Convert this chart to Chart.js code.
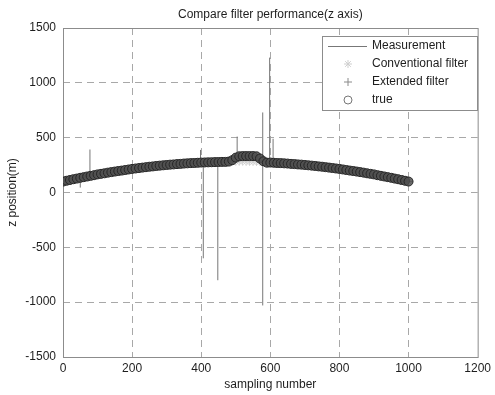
<!DOCTYPE html>
<html>
<head>
<meta charset="utf-8">
<script src="https://cdn.jsdelivr.net/npm/chart.js@4.4.1/dist/chart.umd.min.js"></script>
<style>
  html, body { margin: 0; padding: 0; background: #fff; }
  .chart-container { width: 495px; height: 395px; }
</style>
</head>
<body>
<div class="chart-container">
  <canvas id="zChart" width="495" height="395"></canvas>
</div>
<script>
// sampling numbers for the filter / true curves (every 10th sample)
const sampleX = [
  0, 10, 20, 30, 40, 50, 60, 70, 80, 90,
  100, 110, 120, 130, 140, 150, 160, 170, 180, 190,
  200, 210, 220, 230, 240, 250, 260, 270, 280, 290,
  300, 310, 320, 330, 340, 350, 360, 370, 380, 390,
  400, 410, 420, 430, 440, 450, 460, 470, 480, 490,
  500, 510, 520, 530, 540, 550, 560, 570, 580, 590,
  600, 610, 620, 630, 640, 650, 660, 670, 680, 690,
  700, 710, 720, 730, 740, 750, 760, 770, 780, 790,
  800, 810, 820, 830, 840, 850, 860, 870, 880, 890,
  900, 910, 920, 930, 940, 950, 960, 970, 980, 990,
  1000
];

// true z position (m)
const trueZ = [
  100, 107, 114, 121, 127, 134, 140, 146, 152, 158,
  165, 170, 175, 181, 186, 191, 196, 200, 205, 210,
  215, 219, 223, 227, 231, 235, 238, 242, 245, 248,
  251, 254, 256, 259, 261, 264, 266, 268, 269, 271,
  273, 274, 275, 276, 277, 278, 279, 279, 282, 295,
  318, 330, 332, 332, 332, 332, 330, 310, 285, 272,
  273, 271, 269, 268, 266, 264, 261, 259, 256, 254,
  251, 248, 245, 242, 238, 235, 231, 227, 223, 219,
  215, 210, 205, 200, 196, 191, 186, 181, 175, 170,
  165, 158, 152, 146, 140, 134, 127, 121, 114, 107,
  100
];

// conventional filter misses the step around 500-570
const conventionalZ = [
  100, 107, 114, 121, 127, 134, 140, 146, 152, 158,
  165, 170, 175, 181, 186, 191, 196, 200, 205, 210,
  215, 219, 223, 227, 231, 235, 238, 242, 245, 248,
  251, 254, 256, 259, 261, 264, 266, 268, 269, 271,
  273, 274, 275, 276, 277, 278, 279, 279, 280, 280,
  281, 281, 281, 280, 280, 279, 279, 278, 276, 274,
  273, 271, 269, 268, 266, 264, 261, 259, 256, 254,
  251, 248, 245, 242, 238, 235, 231, 227, 223, 219,
  215, 210, 205, 200, 196, 191, 186, 181, 175, 170,
  165, 158, 152, 146, 140, 134, 127, 121, 114, 107,
  100
];

// extended filter follows the true track
const extendedZ = trueZ;

// measurement outliers: sample, low end, high end
const spikeX    = [50, 78, 398, 406, 448, 504, 578, 598, 608];
const spikeLow  = [45, 150, 270, -600, -800, 280, -1030, 272, 270];
const spikeHigh = [130, 392, 388, 272, 276, 510, 730, 1230, 490];

const xTicks = [0, 200, 400, 600, 800, 1000, 1200];
const yTicks = [-1500, -1000, -500, 0, 500, 1000, 1500];

const FONT = "'Liberation Sans', Arial, sans-serif";
const TITLE = "Compare filter performance(z axis)";

document.addEventListener("DOMContentLoaded", () => {
  const toPoints = (ys) => sampleX.map((x, i) => ({ x: x, y: ys[i] }));

  // each outlier is a vertical segment, broken by a null point
  const measurement = [];
  spikeX.forEach((x, i) => {
    measurement.push({ x: x, y: spikeLow[i] });
    measurement.push({ x: x, y: spikeHigh[i] });
    measurement.push({ x: x, y: null });
  });

  const datasets = [
    {
      label: "Measurement",
      data: measurement,
      showLine: true,
      spanGaps: false,
      borderColor: "#777",
      borderWidth: 1,
      pointRadius: 0,
      order: 4
    },
    {
      label: "Conventional filter",
      data: toPoints(conventionalZ),
      showLine: false,
      pointStyle: "star",
      pointRadius: 4,
      borderColor: "#cfcfcf",
      borderWidth: 1,
      order: 3
    },
    {
      label: "Extended filter",
      data: toPoints(extendedZ),
      showLine: false,
      pointStyle: "cross",
      pointRadius: 4,
      borderColor: "#8a8a8a",
      borderWidth: 1,
      order: 2
    },
    {
      label: "true",
      data: toPoints(trueZ),
      showLine: false,
      pointStyle: "circle",
      pointRadius: 4.5,
      borderColor: "#262626",
      backgroundColor: "rgba(80,80,80,0.85)",
      borderWidth: 1,
      order: 1
    }
  ];

  // title, box round the plot and a MATLAB-like legend in the top right corner
  const boxPlugin = {
    id: "matlabBox",
    beforeDatasetsDraw(chart) {
      const { ctx, chartArea: a } = chart;
      ctx.save();
      ctx.strokeStyle = "#8c8c8c";
      ctx.lineWidth = 1;
      ctx.strokeRect(a.left + 0.5, a.top + 0.5, a.right - a.left, a.bottom - a.top);
      ctx.restore();
    },
    afterDraw(chart) {
      const { ctx, chartArea: a } = chart;
      ctx.save();
      ctx.font = "12px " + FONT;
      ctx.fillStyle = "#1e1e1e";
      ctx.textAlign = "center";
      ctx.textBaseline = "middle";
      ctx.fillText(TITLE, (a.left + a.right) / 2, 15);

      const box = { x: 322, y: 36, w: 155, h: 74 };
      ctx.fillStyle = "#fff";
      ctx.fillRect(box.x, box.y, box.w, box.h);
      ctx.strokeStyle = "#8c8c8c";
      ctx.lineWidth = 1;
      ctx.strokeRect(box.x + 0.5, box.y + 0.5, box.w, box.h);

      const rows = [46, 64, 82, 100];
      ctx.textAlign = "left";
      datasets.forEach((ds, i) => {
        const y = rows[i];
        ctx.lineWidth = 1;
        if (ds.showLine) {
          ctx.strokeStyle = ds.borderColor;
          ctx.beginPath();
          ctx.moveTo(328, y + 0.5);
          ctx.lineTo(367, y + 0.5);
          ctx.stroke();
        } else if (ds.pointStyle === "circle") {
          ctx.strokeStyle = "#777";
          ctx.beginPath();
          ctx.arc(348, y, 4, 0, Math.PI * 2);
          ctx.stroke();
        } else {
          ctx.strokeStyle = ds.borderColor;
          Chart.helpers.drawPoint(ctx, {
            pointStyle: ds.pointStyle,
            radius: 4,
            borderWidth: 1,
            rotation: 0
          }, 348, y);
        }
        ctx.fillStyle = "#1e1e1e";
        ctx.fillText(ds.label, 372, y);
      });
      ctx.restore();
    }
  };

  const edgeX = (v) => v === xTicks[0] || v === xTicks[xTicks.length - 1];
  const edgeY = (v) => v === yTicks[0] || v === yTicks[yTicks.length - 1];

  new Chart(document.getElementById("zChart"), {
    type: "scatter",
    data: { datasets: datasets },
    options: {
      responsive: false,
      animation: false,
      layout: { padding: { top: 28, right: 15, left: 0, bottom: 0 } },
      plugins: {
        legend: { display: false },
        tooltip: { enabled: false },
        title: { display: false }
      },
      scales: {
        x: {
          type: "linear",
          min: xTicks[0],
          max: xTicks[xTicks.length - 1],
          afterBuildTicks: (s) => { s.ticks = xTicks.map(v => ({ value: v })); },
          afterFit: (s) => { s.height = 38; },
          ticks: {
            color: "#1e1e1e",
            font: { family: FONT, size: 12 },
            padding: 4,
            maxRotation: 0,
            autoSkip: false,
            callback: (v) => String(v)
          },
          grid: {
            drawTicks: false,
            color: (c) => edgeX(c.tick.value) ? "rgba(0,0,0,0)" : "#a8a8a8"
          },
          border: { display: false, dash: [7, 5] },
          title: {
            display: true,
            text: "sampling number",
            color: "#1e1e1e",
            font: { family: FONT, size: 12 },
            padding: { top: 0, bottom: 3 }
          }
        },
        y: {
          type: "linear",
          min: yTicks[0],
          max: yTicks[yTicks.length - 1],
          afterBuildTicks: (s) => { s.ticks = yTicks.map(v => ({ value: v })); },
          afterFit: (s) => { s.width = 63; },
          ticks: {
            color: "#1e1e1e",
            font: { family: FONT, size: 12 },
            padding: 7,
            autoSkip: false,
            callback: (v) => String(v)
          },
          grid: {
            drawTicks: false,
            color: (c) => edgeY(c.tick.value) ? "rgba(0,0,0,0)" : "#a8a8a8"
          },
          border: { display: false, dash: [7, 5] },
          title: {
            display: true,
            text: "z position(m)",
            color: "#1e1e1e",
            font: { family: FONT, size: 12 },
            padding: { top: 5, bottom: 0 }
          }
        }
      }
    },
    plugins: [boxPlugin]
  });
});
</script>
</body>
</html>
